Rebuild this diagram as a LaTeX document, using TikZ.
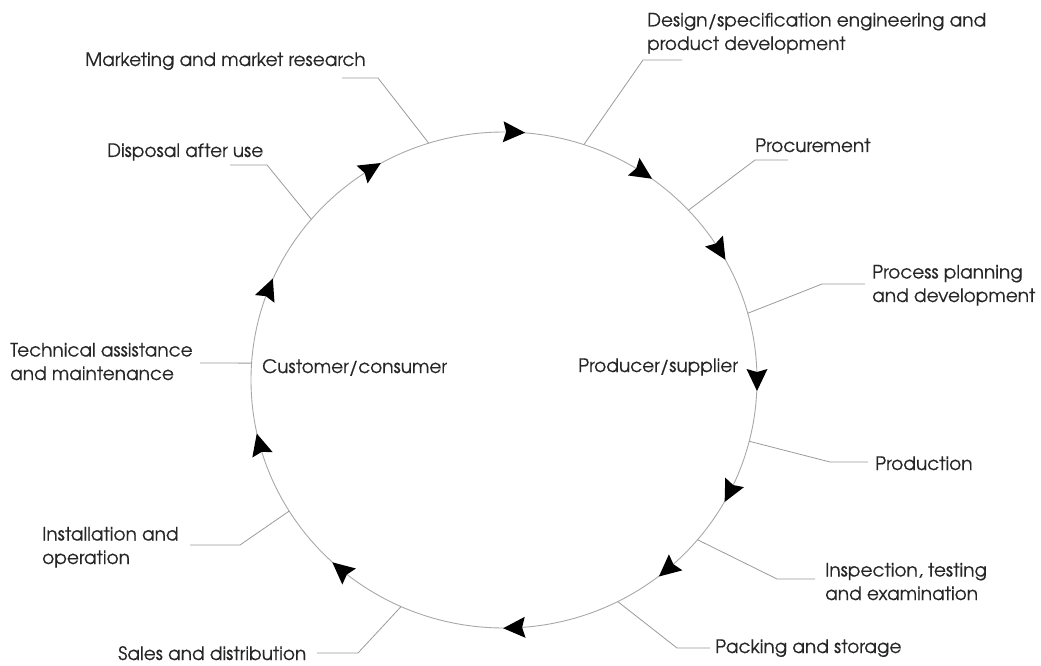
\documentclass[tikz,border=0pt]{standalone}
\usepackage{fontspec}
\setmainfont{TeX Gyre Adventor}[FakeBold=0.4]
\definecolor{txt}{HTML}{262626}
\definecolor{lead}{HTML}{9A9A9A}
\definecolor{ringc}{HTML}{A8A8A8}
\begin{document}
\begin{tikzpicture}[x=1pt,y=1pt,
  lbl/.style={anchor=base west, inner sep=0pt, text=txt, align=left,
              font=\fontsize{18.5}{23.5}\selectfont},
  leader/.style={draw=lead, line width=0.8pt},
  ring/.style={draw=ringc, line width=0.9pt},
  pics/flowtip/.style={code={\fill[black] (11,0) -- (-11,10.5) -- (-8,0) -- (-11,-10.5) -- cycle;}}]
\useasboundingbox (0,0) rectangle (1041,665);

% the cycle
\coordinate (c) at (504,285);
\draw[ring] (c) ellipse [x radius=253, y radius=248];
\foreach \a in {87.7,56.7,31.5,0,-26.9,-49.8,-87.7,229.8,195,158.4,121.6}
  \pic[rotate=\a-90] at ([shift={(\a:253 and 248)}]c) {flowtip};

% centre labels
\node[lbl] (cust) at (262,292) {Customer/consumer};
\node[lbl] (prod) at (578,293) {Producer/supplier};

% stage labels (base anchor = baseline of the last line)
\node[lbl] (mkt)  at (85,599)  {Marketing and market research};
\node[lbl] (des)  at (647,615) {Design/specification engineering and\\product development};
\node[lbl] (proc) at (755,513) {Procurement};
\node[lbl] (plan) at (872,363) {Process planning\\and development};
\node[lbl] (prdn) at (875,195) {Production};
\node[lbl] (insp) at (825,65)  {Inspection, testing\\and examination};
\node[lbl] (pack) at (715,12)  {Packing and storage};
\node[lbl] (sale) at (118,5)   {Sales and distribution};
\node[lbl] (inst) at (42,101)  {Installation and\\operation};
\node[lbl] (tech) at (10,285)  {Technical assistance\\and maintenance};
\node[lbl] (disp) at (107,508) {Disposal after use};

% points where the leaders meet the cycle
\foreach \n/\a in {mkt/107.3, des/71.6, proc/43.2, plan/15.6, prdn/-14.3,
                   insp/-40.1, pack/-63.3, sale/246, inst/211.9, tech/176.1, disp/139.6}
  \coordinate (on-\n) at ([shift={(\a:253 and 248)}]c);

% bends and free ends of the leaders
\coordinate (b-mkt)  at (378,587); \coordinate (e-mkt)  at (342,587);
\coordinate (b-des)  at (643,605); \coordinate (e-des)  at (682,605);
\coordinate (b-proc) at (755,505); \coordinate (e-proc) at (788,505);
\coordinate (b-plan) at (822,381); \coordinate (e-plan) at (865,381);
\coordinate (b-prdn) at (830,203); \coordinate (e-prdn) at (868,203);
\coordinate (b-insp) at (777,86);  \coordinate (e-insp) at (815,86);
\coordinate (b-pack) at (677,17);  \coordinate (e-pack) at (710,17);
\coordinate (b-sale) at (358,12);  \coordinate (e-sale) at (317,12);
\coordinate (b-inst) at (240,120); \coordinate (e-inst) at (190,120);
\coordinate (e-tech) at (200,302);
\coordinate (b-disp) at (267,500); \coordinate (e-disp) at (230,500);

\foreach \n in {mkt,des,proc,plan,prdn,insp,pack,sale,inst,disp}
  \draw[leader] (on-\n) -- (b-\n) -- (e-\n);
\draw[leader] (on-tech) -- (e-tech);
\end{tikzpicture}
\end{document}
